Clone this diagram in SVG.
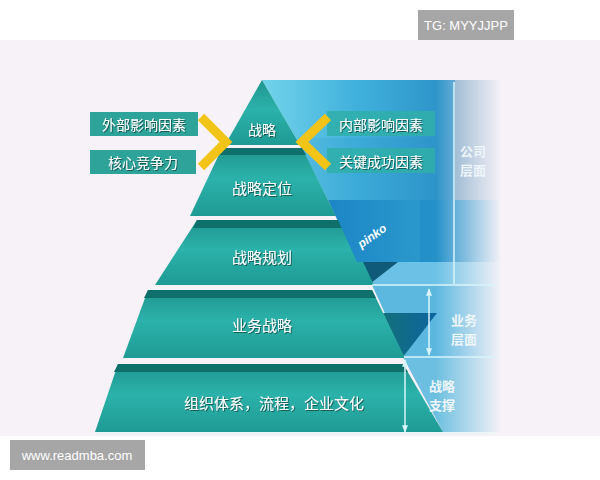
<svg xmlns="http://www.w3.org/2000/svg" width="600" height="480" viewBox="0 0 600 480">
<style>
.t{font-family:"Noto Sans CJK SC","Noto Sans",sans-serif;fill:#ffffff;text-anchor:middle;filter:url(#sh)}
.lbl{font-family:"Noto Sans CJK SC","Noto Sans",sans-serif;fill:#eef6fa;text-anchor:middle;font-weight:bold;font-size:13px}
.tier{fill:url(#teal)}
.bevel{fill:#0f6f6a}
.box{fill:#2ea39a}
.rbox{fill:#30aeaa;opacity:.88}
.chev{fill:none;stroke:#f2c418;stroke-width:9;stroke-linejoin:miter}
.ln{stroke:#d9f5fb;stroke-width:1.5;fill:none}
.wm{font-family:"Liberation Sans",sans-serif;fill:#ffffff;text-anchor:middle;font-weight:bold;font-style:italic;font-size:12px}
.tag{font-family:"Liberation Sans",Arial,sans-serif;fill:#ffffff;text-anchor:middle;font-size:13px}
</style>
<defs>
<linearGradient id="teal" x1="0" y1="0" x2="0" y2="1">
<stop offset="0" stop-color="#1f958f"/>
<stop offset="0.45" stop-color="#2bb2aa"/>
<stop offset="1" stop-color="#1e9a94"/>
</linearGradient>
<linearGradient id="panel" x1="262" y1="0" x2="455" y2="0" gradientUnits="userSpaceOnUse">
<stop offset="0" stop-color="#72d3ea"/>
<stop offset="0.5" stop-color="#3fb0dc"/>
<stop offset="1" stop-color="#2a8fc6"/>
</linearGradient>
<linearGradient id="hex" x1="0" y1="0" x2="1" y2="0">
<stop offset="0" stop-color="#1c86c6"/>
<stop offset="1" stop-color="#2a98cc"/>
</linearGradient>
<linearGradient id="fade" x1="0" y1="0" x2="1" y2="0">
<stop offset="0" stop-color="#f7f2f8" stop-opacity="0"/>
<stop offset="1" stop-color="#f7f2f8" stop-opacity="1"/>
</linearGradient>
<linearGradient id="inv" x1="0" y1="0" x2="1" y2="0">
<stop offset="0" stop-color="#12707a"/>
<stop offset="1" stop-color="#0e63a0"/>
</linearGradient>
<filter id="sh" x="-10%" y="-30%" width="120%" height="160%">
<feDropShadow dx="1" dy="1" stdDeviation="0.6" flood-color="#0a4a46" flood-opacity="0.8"/>
</filter>
<marker id="ah" viewBox="0 0 10 10" refX="9" refY="5" markerWidth="5" markerHeight="5" orient="auto-start-reverse">
<path d="M0,1 L10,5 L0,9 z" fill="#d9f5fb"/>
</marker>
</defs>

<rect width="600" height="480" fill="#ffffff"/>
<rect x="0" y="40" width="600" height="396" fill="#f7f2f8"/>

<!-- right blue background panels -->
<g id="right-panels">
<polygon points="262,80 455,80 455,200 328,200 300,145" fill="url(#panel)"/>
<rect x="300" y="138" width="155" height="62" fill="#2a8fc6" opacity="0.18"/>
<rect x="455" y="80" width="45" height="205" fill="#7fa8c6"/>
<polygon points="328,200 500,200 500,262 357,262" fill="url(#hex)"/>
<rect x="357" y="262" width="143" height="23" fill="#6cc2e6"/>
<polygon points="357,262 398,262 371,283" fill="#0f5a78"/>
<polygon points="372,285 500,285 500,357 405,357" fill="#5db8e0"/>
<polygon points="383,313 437,313 403,357" fill="url(#inv)"/>
<polygon points="403,357 500,357 500,432 443,432" fill="#6cbfe0"/>
<rect x="436" y="78" width="66" height="358" fill="url(#fade)"/>
<rect x="500" y="78" width="100" height="358" fill="#f7f2f8"/>
</g>

<!-- pyramid tiers -->
<g id="tier1">
<polygon class="tier" points="262,80 300,145 225,145"/>
<text class="t" x="262" y="135" font-size="14">战略</text>
</g>
<g id="tier2">
<polygon class="tier" points="222,148 302,148 328,200 336,216 190,216"/>
<polygon class="bevel" points="222,148 302,148 306,155 218,155"/>
<text class="t" x="262" y="194" font-size="15">战略定位</text>
</g>
<g id="tier3">
<polygon class="tier" points="197,220 343,220 374,285 155,285"/>
<polygon class="bevel" points="197,220 343,220 347,228 193,228"/>
<text class="t" x="262" y="263" font-size="15">战略规划</text>
</g>
<g id="tier4">
<polygon class="tier" points="148,290 372,290 405,358 123,358"/>
<polygon class="bevel" points="148,290 372,290 376,298 144,298"/>
<text class="t" x="262" y="331" font-size="15">业务战略</text>
</g>
<g id="tier5">
<polygon class="tier" points="118,364 403,364 443,432 95,432"/>
<polygon class="bevel" points="118,364 403,364 408,372 114,372"/>
<text class="t" x="274" y="409" font-size="15">组织体系，流程，企业文化</text>
</g>

<!-- hexagon overlay with watermark -->
<g id="hexagon">
<polygon points="330,200 420,200 420,262 357,262 338,220" fill="url(#hex)"/>
<text class="wm" x="372" y="240" transform="rotate(-35 372 236)">pinko</text>
</g>

<!-- side boxes -->
<g id="ext-factors">
<rect class="box" x="90" y="112" width="108" height="24"/>
<text class="t" x="144" y="130" font-size="14">外部影响因素</text>
</g>
<g id="core-comp">
<rect class="box" x="90" y="150" width="106" height="24"/>
<text class="t" x="143" y="168" font-size="14">核心竞争力</text>
</g>
<g id="int-factors">
<rect class="rbox" x="327" y="111" width="108" height="25"/>
<text class="t" x="381" y="130" font-size="14">内部影响因素</text>
</g>
<g id="ksf">
<rect class="rbox" x="327" y="148" width="108" height="25"/>
<text class="t" x="381" y="167" font-size="14">关键成功因素</text>
</g>

<!-- level labels -->
<g id="company-level">
<text class="lbl" x="473" y="156">公司</text>
<text class="lbl" x="473" y="175">层面</text>
</g>
<g id="business-level">
<text class="lbl" x="464" y="325">业务</text>
<text class="lbl" x="464" y="344">层面</text>
</g>
<g id="support-level">
<text class="lbl" x="442" y="391">战略</text>
<text class="lbl" x="442" y="410">支撑</text>
</g>

<!-- connectors -->
<g id="connectors">
<polyline class="chev" points="201,117 226,142 201,167"/>
<polyline class="chev" points="328,117 302,142 328,167"/>
<line class="ln" x1="454" y1="82" x2="454" y2="284"/>
<line class="ln" x1="372" y1="285" x2="495" y2="285"/>
<line class="ln" x1="429" y1="289" x2="429" y2="355" marker-start="url(#ah)" marker-end="url(#ah)"/>
<line class="ln" x1="404" y1="357" x2="495" y2="357"/>
<line class="ln" x1="405" y1="360" x2="405" y2="432" marker-start="url(#ah)" marker-end="url(#ah)"/>
<line x1="95" y1="433.5" x2="495" y2="433.5" stroke="#e6f6f8" stroke-width="1.5"/>
</g>

<!-- tags -->
<g id="tg-tag">
<rect x="418" y="10" width="96" height="30" fill="#a6a6a6"/>
<text class="tag" x="466" y="30">TG: MYYJJPP</text>
</g>
<g id="site-tag">
<rect x="10" y="440" width="135" height="30" fill="#a6a6a6"/>
<text class="tag" x="77" y="460">www.readmba.com</text>
</g>
</svg>
